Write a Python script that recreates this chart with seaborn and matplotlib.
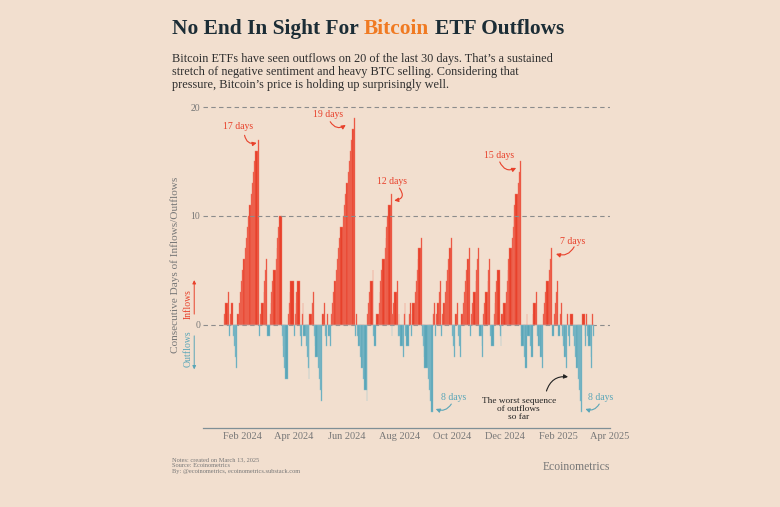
import matplotlib
matplotlib.use("Agg")
import matplotlib.pyplot as plt
import matplotlib.dates as mdates
import numpy as np
import pandas as pd
import seaborn as sns

# signed streak lengths, in trading-day order
# (+n = n consecutive inflow days, -n = n consecutive outflow days)
runs_jan_apr_2024 = [3, -1, 2, -4, 17, -1, 6, -1, 10, -5, 4, -1, 4, -2, 2, -5, 3, -7]
runs_may_aug_2024 = [2, -2, 1, -2, 19, -1, 1, -7, 5, -2, 12, -1, 4, -1, 1, -3, 2, -2, 2, -1, 8]
runs_sep_dec_2024 = [-8, 2, -1, 4, -1, 8, -3, 2, -3, 7, -1, 7, -3, 6, -2, 5, -2, 15, -4, 1, -3]
runs_2025 = [3, -4, 7, -1, 4, -1, 2, -4, 1, -2, 1, -8, 1, -2, 1, -4, 1, -1]

first_day = "2024-01-11"
market_holidays = ["2024-01-15", "2024-02-19", "2024-03-29", "2024-05-27", "2024-06-19",
                   "2024-07-04", "2024-09-02", "2024-11-28", "2024-12-25", "2025-01-01",
                   "2025-01-09", "2025-01-20", "2025-02-17"]

tick_months = ["2024-02-01", "2024-04-01", "2024-06-01", "2024-08-01", "2024-10-01",
               "2024-12-01", "2025-02-01", "2025-04-01"]

# (label, text date, text y, arrow start date, start y, arrow end date, end y, curve)
red_notes = [("17 days", "2024-01-27", 18.2, "2024-02-04", 17.4, "2024-02-18", 16.7, 0.5),
             ("19 days", "2024-05-11", 19.3, "2024-05-13", 18.65, "2024-05-31", 18.35, 0.5),
             ("12 days", "2024-07-24", 13.15, "2024-08-01", 12.55, "2024-07-26", 11.4, -0.8),
             ("15 days", "2024-11-24", 15.5, "2024-11-25", 14.95, "2024-12-14", 14.4, 0.5),
             ("7 days", "2025-02-17", 7.65, "2025-02-19", 7.15, "2025-01-29", 6.5, -0.4)]
blue_notes = [("8 days", "2024-10-03", -6.7, "2024-09-30", -7.3, "2024-09-12", -7.75, -0.4),
              ("8 days", "2025-03-22", -6.7, "2025-03-20", -7.3, "2025-03-04", -7.75, -0.4)]

bg = "#f2dfcf"
red = "#e8412b"
blue = "#5aa6b8"
grey = "#777777"
dark = "#1c2d36"

sns.set_theme(style="white", rc={"figure.facecolor": bg, "axes.facecolor": bg})
plt.rcParams["font.family"] = ["Liberation Serif", "DejaVu Serif"]

# build the daily streak series
runs = runs_jan_apr_2024 + runs_may_aug_2024 + runs_sep_dec_2024 + runs_2025
streak = []
for r in runs:
    s = 1 if r > 0 else -1
    streak += [s * k for k in range(1, abs(r) + 1)]
cbd = pd.offsets.CustomBusinessDay(holidays=market_holidays)
dates = pd.date_range(first_day, periods=len(streak), freq=cbd)
df = pd.DataFrame({"date": dates, "streak": streak})
df["x"] = mdates.date2num(df["date"])
df["flow"] = np.where(df["streak"] > 0, "Inflows", "Outflows")
edges = list(df["x"].values) + [df["x"].values[-1] + 1]

fig = plt.figure(figsize=(7.8, 5.07), dpi=100)
ax = fig.add_axes([0.2603, 0.1558, 0.5218, 0.646])

sns.histplot(data=df[df.flow == "Inflows"], x="x", weights="streak", bins=edges,
             color=red, alpha=1, edgecolor="#f07a68", linewidth=0.3, ax=ax, zorder=2)
sns.histplot(data=df[df.flow == "Outflows"], x="x", weights="streak", bins=edges,
             color=blue, alpha=1, edgecolor="#8cc0cc", linewidth=0.3, ax=ax, zorder=2)

d = mdates.datestr2num
ax.set_xlim(d("2023-12-18"), d("2025-04-01") + 0.5)
ax.set_ylim(-9.5, 20.6)
for yv, z in [(0, 1), (10, 3), (20, 3)]:
    ax.axhline(yv, color="#8c8c8c", lw=0.8, ls=(0, (4, 3)), zorder=z)

ax.set_yticks([0, 10, 20])
ax.set_yticklabels(["0", "10", "20"])
ax.tick_params(axis="y", length=0, labelsize=7, labelcolor=grey, pad=2)
ax.set_xticks([d(m) for m in tick_months])
ax.xaxis.set_major_formatter(mdates.DateFormatter("%b %Y"))
ax.tick_params(axis="x", length=3, width=0.6, color="#7f8f96", direction="in",
               labelsize=7.5, labelcolor=grey, pad=3)
ax.set_xlabel("")
ax.set_ylabel("")
for sp in ["top", "right", "left"]:
    ax.spines[sp].set_visible(False)
ax.spines["bottom"].set_color("#7f8f96")
ax.spines["bottom"].set_linewidth(0.9)


def note(label, tx, ty, sx, sy, ex, ey, rad, col):
    ax.text(d(tx), ty, label, ha="center", va="center", fontsize=7, color=col)
    ax.annotate("", xy=(d(ex), ey), xytext=(d(sx), sy),
                arrowprops=dict(arrowstyle="-|>", color=col, lw=0.8, mutation_scale=6,
                                shrinkA=0, shrinkB=0,
                                connectionstyle=f"arc3,rad={rad}"))


for row in red_notes:
    note(*row, red)
for row in blue_notes:
    note(*row, blue)

ax.text(d("2024-12-17"), -7.75, "The worst sequence\nof outflows\nso far", ha="center",
        va="center", fontsize=6.7, color="#222222", linespacing=1.05)
ax.annotate("", xy=(d("2025-02-12"), -4.8), xytext=(d("2025-01-18"), -6.1),
            arrowprops=dict(arrowstyle="-|>", color="#222222", lw=0.8, mutation_scale=6,
                            shrinkA=0, shrinkB=0, connectionstyle="arc3,rad=-0.4"))

# y axis label and in/out markers
fig.text(0.224, 0.477, "Consecutive Days of Inflows/Outflows", rotation=90, ha="center",
         va="center", fontsize=8.1, color=grey)
fig.text(0.241, 0.400, "Inflows", rotation=90, ha="center", va="center", fontsize=7,
         color=red)
fig.text(0.241, 0.312, "Outflows", rotation=90, ha="center", va="center", fontsize=7,
         color=blue)
fig.add_artist(matplotlib.patches.FancyArrowPatch((0.249, 0.375), (0.249, 0.453),
               transform=fig.transFigure, arrowstyle="-|>", mutation_scale=5,
               color=red, lw=0.7))
fig.add_artist(matplotlib.patches.FancyArrowPatch((0.249, 0.343), (0.249, 0.266),
               transform=fig.transFigure, arrowstyle="-|>", mutation_scale=5,
               color=blue, lw=0.7))

# title in three colored pieces
fig.canvas.draw()
rend = fig.canvas.get_renderer()
tx0, ty0 = 0.2205, 0.932
tsize = 15.4
parts = [("No End In Sight For", dark), ("Bitcoin", "#f07a22"), ("ETF Outflows", dark)]
sp_probe = fig.text(0, 0, "a a", fontsize=tsize, fontweight="bold")
sp_probe2 = fig.text(0, 0, "aa", fontsize=tsize, fontweight="bold")
space_w = (sp_probe.get_window_extent(rend).width
           - sp_probe2.get_window_extent(rend).width) / fig.bbox.width
sp_probe.remove()
sp_probe2.remove()
xpos = tx0
for txt, col in parts:
    t = fig.text(xpos, ty0, txt, fontsize=tsize, fontweight="bold", color=col,
                 va="baseline")
    xpos += t.get_window_extent(rend).width / fig.bbox.width + space_w

fig.text(tx0, 0.895, "Bitcoin ETFs have seen outflows on 20 of the last 30 days. That\u2019s a sustained\n"
         "stretch of negative sentiment and heavy BTC selling. Considering that\n"
         "pressure, Bitcoin\u2019s price is holding up surprisingly well.",
         fontsize=8.85, color="#2e2e2e", va="top", linespacing=1.08)

fig.text(tx0, 0.098, "Notes: created on March 13, 2025\nSource: Ecoinometrics\n"
         "By: @ecoinometrics, ecoinometrics.substack.com", fontsize=4.6, color=grey,
         va="top", linespacing=1.15)
fig.text(0.782, 0.079, "Ecoinometrics", fontsize=8.4, color=grey, ha="right", va="center")

fig.savefig("out.png", dpi=100, facecolor=bg)
